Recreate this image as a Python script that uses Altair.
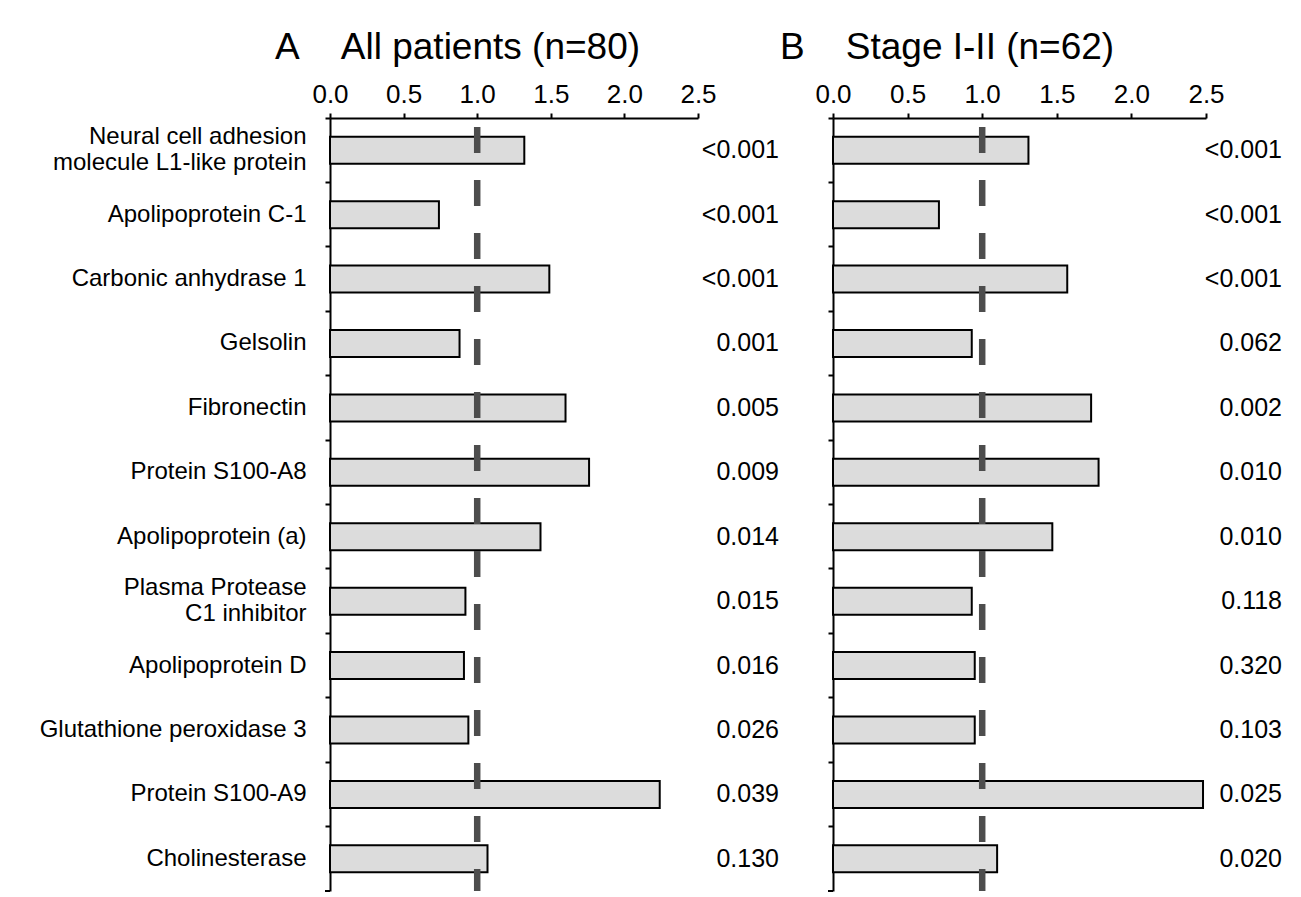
import altair as alt
import pandas as pd

categories = [
    "Neural cell adhesion\nmolecule L1-like protein",
    "Apolipoprotein C-1",
    "Carbonic anhydrase 1",
    "Gelsolin",
    "Fibronectin",
    "Protein S100-A8",
    "Apolipoprotein (a)",
    "Plasma Protease\nC1 inhibitor",
    "Apolipoprotein D",
    "Glutathione peroxidase 3",
    "Protein S100-A9",
    "Cholinesterase",
]
ratio_all = [1.32, 0.74, 1.49, 0.88, 1.60, 1.76, 1.43, 0.92, 0.91, 0.94, 2.24, 1.07]
p_all = ["<0.001", "<0.001", "<0.001", "0.001", "0.005", "0.009",
         "0.014", "0.015", "0.016", "0.026", "0.039", "0.130"]
ratio_early = [1.31, 0.71, 1.57, 0.93, 1.73, 1.78, 1.47, 0.93, 0.95, 0.95, 2.48, 1.10]
p_early = ["<0.001", "<0.001", "<0.001", "0.062", "0.002", "0.010",
           "0.010", "0.118", "0.320", "0.103", "0.025", "0.020"]
x_ticks = [0.0, 0.5, 1.0, 1.5, 2.0, 2.5]
reference_line = [1.0]

FONT = "Liberation Sans"
H = 773


def panel(ratios, pvals, title, width, title_dx, show_labels):
    df = pd.DataFrame({"protein": categories, "ratio": ratios, "p": pvals})
    y_axis = alt.Axis(
        labels=show_labels,
        labelExpr="split(datum.value, '\\n')",
        labelFontSize=24,
        labelLineHeight=26,
        labelOffset={"condition": {"test": "indexof(datum.value, '\\n') >= 0", "value": -13}, "value": 0},
        labelPadding=19,
        labelColor="black",
        labelLimit=400,
        bandPosition=0,
        tickSize=5,
        tickWidth=2,
        tickColor="black",
        domainColor="black",
        domainWidth=2,
        title=None,
    )
    y = alt.Y("protein:N", sort=categories, axis=y_axis,
              scale=alt.Scale(paddingInner=0, paddingOuter=0))
    x_axis = alt.Axis(
        orient="top",
        values=x_ticks,
        format=".1f",
        labelFontSize=26,
        labelPadding=6,
        labelColor="black",
        tickSize=5,
        tickWidth=2,
        tickColor="black",
        domainColor="black",
        domainWidth=2,
        grid=False,
        title=None,
        labelFlush=False,
    )
    x = alt.X("ratio:Q", axis=x_axis,
              scale=alt.Scale(domain=[0, 2.5], nice=False, zero=True))

    bars = alt.Chart(df).mark_bar(
        height=27, fill="#dcdcdc", stroke="black", strokeWidth=2
    ).encode(x=x, y=y)

    ref_df = pd.DataFrame({"ref": reference_line})
    rule = alt.Chart(ref_df).mark_rule(
        color="#4d4d4d", strokeWidth=6.5, strokeDash=[26, 27], strokeDashOffset=44
    ).encode(x=alt.X("ref:Q"))

    ptext = alt.Chart(df).mark_text(
        align="right", baseline="middle", fontSize=25, font=FONT, color="black"
    ).encode(x=alt.value(449), y=alt.Y("protein:N", sort=categories), text="p:N")

    bottom_tick = alt.Chart(ref_df).mark_rule(color="black", strokeWidth=2).encode(
        x=alt.value(-5), x2=alt.value(0), y=alt.value(H)
    )

    return alt.layer(bars, rule, ptext, bottom_tick).properties(
        width=width,
        height=H,
        title=alt.TitleParams(
            text=title, anchor="start", frame="group", dx=title_dx,
            fontSize=37, fontWeight="normal", font=FONT, color="black", offset=14,
        ),
    )


nb = "\u00a0"
left = panel(ratio_all, p_all, "A" + nb * 4 + "All patients (n=80)", 368, -55, True)
right = panel(ratio_early, p_early, "B" + nb * 4 + "Stage I-II (n=62)", 373, -53, False)

chart = alt.hconcat(left, right, spacing=1).properties(
    padding={"left": 31, "top": 21, "right": 5, "bottom": 0}
).configure_view(stroke=None).configure_axis(
    labelFont=FONT
).configure_text(font=FONT).configure_title(font=FONT)

chart.save("out.html", embed_options={"renderer": "svg", "actions": False})
